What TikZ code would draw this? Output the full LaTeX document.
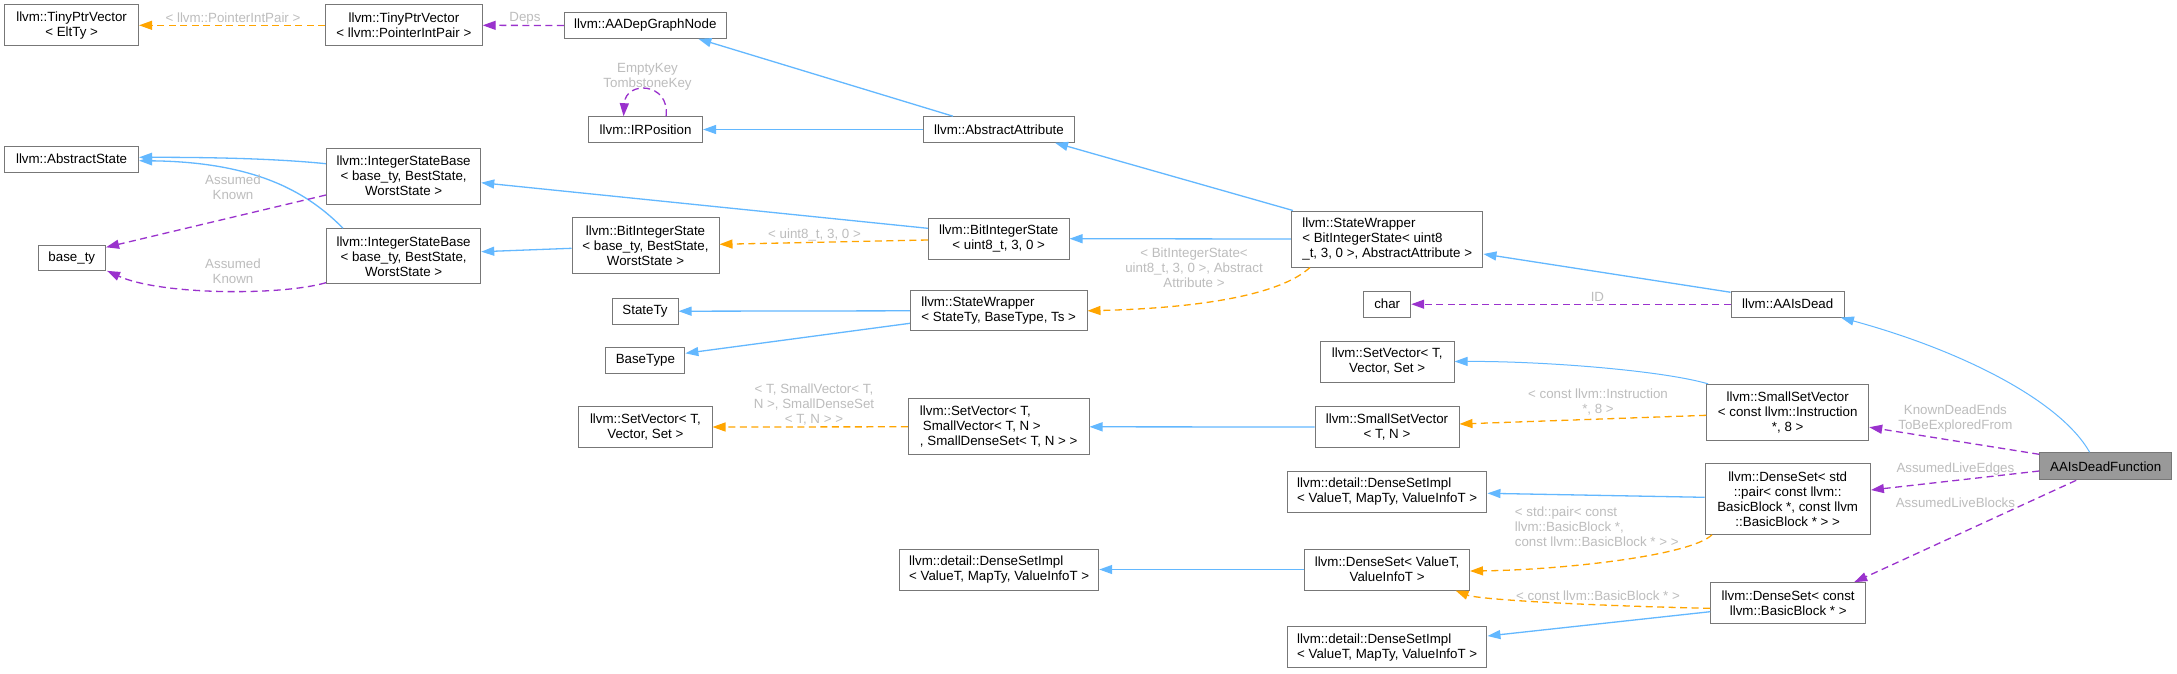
\documentclass[tikz,border=0pt]{standalone}
\usepackage{fontspec}
\setmainfont{Liberation Sans}
\usetikzlibrary{arrows.meta,calc}
\definecolor{inhblue}{HTML}{63B8FF}
\definecolor{tmplorange}{HTML}{FFA500}
\definecolor{usepurple}{HTML}{9A32CD}
\definecolor{lblgray}{HTML}{BDBDBD}
\definecolor{nodeborder}{HTML}{777777}
\definecolor{nodefill}{HTML}{999999}
\newcommand{\dxfont}{\fontsize{13.33}{15}\selectfont}
\begin{document}
\begin{tikzpicture}[x=1pt,y=-1pt,
  cls/.style={draw=nodeborder, line width=1pt, fill=white, inner sep=0pt, font=\dxfont, align=center},
  clsl/.style={cls, align=left},
  lbl/.style={text=lblgray, font=\dxfont, inner sep=0pt, align=center},
  tip/.style={-{Triangle[length=13pt,width=9pt]}},
  inh/.style={draw=inhblue, line width=1.3pt, tip},
  tmpl/.style={draw=tmplorange, line width=1.3pt, dash pattern=on 7pt off 4.5pt, tip},
  use/.style={draw=usepurple, line width=1.3pt, dash pattern=on 7pt off 4.5pt, tip}]
\useasboundingbox (0,0) rectangle (2177,673);
\fill[white] (0,0) rectangle (2177,673);

% nodes
\node[cls, minimum width=134pt, minimum height=40.7pt] (tinyE) at (71.6,25.3) {llvm::TinyPtrVector\\< EltTy >};
\node[cls, minimum width=156.6pt, minimum height=40.7pt] (tinyP) at (403.9,25.3) {llvm::TinyPtrVector\\< llvm::PointerIntPair >};
\node[cls, minimum width=161.7pt, minimum height=25.6pt] (depnode) at (645.3,25.5) {llvm::AADepGraphNode};
\node[cls, minimum width=114pt, minimum height=25.6pt] (irpos) at (645.6,129.5) {llvm::IRPosition};
\node[cls, minimum width=151.5pt, minimum height=25.6pt] (absattr) at (999,129.5) {llvm::AbstractAttribute};
\node[cls, minimum width=134pt, minimum height=26pt] (absstate) at (71.6,159) {llvm::AbstractState};
\node[cls, minimum width=154.3pt, minimum height=55.7pt] (isbT) at (403.6,176.2) {llvm::IntegerStateBase\\< base\_ty, BestState,\\WorstState >};
\node[cls, minimum width=67.5pt, minimum height=25.3pt] (basety) at (71.8,257.7) {base\_ty};
\node[cls, minimum width=154.3pt, minimum height=55.3pt] (isbB) at (403.6,256.3) {llvm::IntegerStateBase\\< base\_ty, BestState,\\WorstState >};
\node[cls, minimum width=147pt, minimum height=55.6pt] (bisB) at (645.5,245.5) {llvm::BitIntegerState\\< base\_ty, BestState,\\WorstState >};
\node[cls, minimum width=140.7pt, minimum height=40.7pt] (bisU) at (998.7,238.7) {llvm::BitIntegerState\\< uint8\_t, 3, 0 >};
\node[clsl, minimum width=191.5pt, minimum height=56pt] (swB) at (1387.2,239) {llvm::StateWrapper\\< BitIntegerState< uint8\\\_t, 3, 0 >, AbstractAttribute >};
\node[cls, minimum width=47pt, minimum height=25.7pt] (char) at (1387.2,304.2) {char};
\node[cls, minimum width=113.4pt, minimum height=25.7pt] (aaisdead) at (1787.7,304.2) {llvm::AAIsDead};
\node[cls, minimum width=66pt, minimum height=25.7pt] (statety) at (645,311.2) {StateTy};
\node[cls, minimum width=79pt, minimum height=26pt] (basetype) at (645.4,360.3) {BaseType};
\node[clsl, minimum width=176.6pt, minimum height=40.3pt] (swS) at (998.7,310.8) {llvm::StateWrapper\\< StateTy, BaseType, Ts >};
\node[cls, minimum width=133.7pt, minimum height=41pt] (svR) at (1387.2,361.5) {llvm::SetVector< T,\\Vector, Set >};
\node[cls, minimum width=162pt, minimum height=55.7pt] (ssvI) at (1787.7,412.2) {llvm::SmallSetVector\\< const llvm::Instruction\\ *, 8 >};
\node[cls, minimum width=133.2pt, minimum height=40.6pt] (svL) at (645.4,427) {llvm::SetVector< T,\\Vector, Set >};
\node[clsl, minimum width=180.6pt, minimum height=55.7pt] (svS) at (998.7,426.8) {llvm::SetVector< T,\\\hspace*{3pt}SmallVector< T, N >\\, SmallDenseSet< T, N > >};
\node[cls, minimum width=144pt, minimum height=40.6pt] (ssvT) at (1387,427) {llvm::SmallSetVector\\< T, N >};
\node[cls, fill=nodefill, minimum width=132pt, minimum height=27pt] (aadf) at (2105.7,466.3) {AAIsDeadFunction};
\node[clsl, minimum width=199.5pt, minimum height=40.6pt] (dsiT) at (1387.2,492) {llvm::detail::DenseSetImpl\\< ValueT, MapTy, ValueInfoT >};
\node[cls, minimum width=165.4pt, minimum height=71pt] (dsPair) at (1787.7,498.8) {llvm::DenseSet< std\\::pair< const llvm::\\BasicBlock *, const llvm\\::BasicBlock * > >};
\node[clsl, minimum width=199pt, minimum height=41pt] (dsiM) at (999.2,569.5) {llvm::detail::DenseSetImpl\\< ValueT, MapTy, ValueInfoT >};
\node[cls, minimum width=164.8pt, minimum height=41pt] (dsV) at (1387.1,569.5) {llvm::DenseSet< ValueT,\\ValueInfoT >};
\node[cls, minimum width=155pt, minimum height=40.6pt] (dsBB) at (1788.2,603) {llvm::DenseSet< const\\llvm::BasicBlock * >};
\node[clsl, minimum width=199.5pt, minimum height=41pt] (dsiB) at (1387.2,647.2) {llvm::detail::DenseSetImpl\\< ValueT, MapTy, ValueInfoT >};

% edges
\draw[tmpl] (tinyP.west) -- (tinyE.east);
\draw[use] (depnode.west) -- (tinyP.east);
\draw[inh] ($(absattr.north)+(-46,0)$) -- ($(depnode.south)+(53,0)$);
\draw[use] ($(irpos.north)+(20.5,0)$) .. controls +(4,-34) and +(2,-36) .. ($(irpos.north)+(-22,0)$);
\draw[inh] (absattr.west) -- (irpos.east);
\draw[inh] ($(swB.north west)+(2,0)$) -- ($(absattr.south)+(56,0)$);
\draw[inh] ($(isbT.west)+(0,-12.5)$) .. controls (270,158) and (200,157.3) .. ($(absstate.east)+(0,-1.7)$);
\draw[inh] ($(isbB.north west)+(17,0)$) .. controls (310,195) and (260,162) .. ($(absstate.east)+(0,1.7)$);
\draw[use] ($(isbT.west)+(0,18.8)$) -- ($(basety.east)+(0,-10.4)$);
\draw[use] ($(isbB.west)+(0,26.4)$) .. controls (280,296) and (160,295) .. ($(basety.south east)+(1,0)$);
\draw[inh] ($(bisU.west)+(0,-10.4)$) -- ($(isbT.east)+(0,6.5)$);
\draw[inh] ($(bisB.west)+(0,2.8)$) -- ($(isbB.east)+(0,-4.6)$);
\draw[tmpl] ($(bisU.west)+(0,1.3)$) -- ($(bisB.east)+(0,-1.2)$);
\draw[inh] (swB.west) -- (bisU.east);
\draw[tmpl] ($(swB.south west)+(19,0)$) .. controls (1280,295) and (1200,308) .. (swS.east);
\draw[inh] (swS.west) -- (statety.east);
\draw[inh] ($(swS.west)+(0,12.5)$) -- ($(basetype.east)+(0,-7)$);
\draw[inh] ($(aaisdead.north west)+(0,1.4)$) -- ($(swB.east)+(0,15)$);
\draw[use] (aaisdead.west) -- (char.east);
\draw[inh, line width=1pt] ($(aadf.north)+(-16,0)$) .. controls (2060,400) and (1960,350) .. ($(aaisdead.south east)+(-4,0)$);
\draw[inh, line width=1pt] ($(ssvI.north west)+(2,0)$) .. controls (1660,370) and (1540,361) .. (svR.east);
\draw[tmpl] ($(ssvI.west)+(0,3.1)$) -- ($(ssvT.east)+(0,-3)$);
\draw[inh] (ssvT.west) -- (svS.east);
\draw[tmpl] (svS.west) -- (svL.east);
\draw[use] ($(aadf.west)+(0,-12)$) -- ($(ssvI.east)+(0,15)$);
\draw[use] ($(aadf.west)+(0,4.7)$) -- ($(dsPair.east)+(0,-8.8)$);
\draw[use] ($(aadf.south west)+(37,0)$) -- ($(dsBB.north east)+(-12,0)$);
\draw[inh] ($(dsPair.west)+(0,-1.5)$) -- ($(dsiT.east)+(0,1.3)$);
\draw[tmpl] ($(dsPair.south west)+(7.5,0)$) .. controls (1690,556) and (1560,570) .. ($(dsV.east)+(0,1.5)$);
\draw[inh] (dsV.west) -- (dsiM.east);
\draw[tmpl] ($(dsBB.west)+(0,5.3)$) .. controls (1600,606) and (1480,600) .. ($(dsV.south east)+(-14.5,0)$);
\draw[inh] ($(dsBB.west)+(0,8.7)$) -- ($(dsiB.east)+(0,-11.2)$);

% labels
\node[lbl] (l1) at (233,18) {< llvm::PointerIntPair >};
\node[lbl] (l2) at (525,18) {Deps};
\node[lbl] (l3) at (647.5,76.5) {EmptyKey\\TombstoneKey};
\node[lbl] (l4) at (233,187.5) {Assumed\\Known};
\node[lbl] (l5) at (233,271.5) {Assumed\\Known};
\node[lbl] (l6) at (814.5,235) {< uint8\_t, 3, 0 >};
\node[lbl] (l7) at (1194,267.7) {< BitIntegerState<\\uint8\_t, 3, 0 >, Abstract\\Attribute >};
\node[lbl] (l8) at (1597.4,297.3) {ID};
\node[lbl] (l9) at (1598,402.5) {< const llvm::Instruction\\*, 8 >};
\node[lbl] (l10) at (814,404.7) {< T, SmallVector< T,\\N >, SmallDenseSet\\< T, N > >};
\node[lbl] (l11) at (1955.4,418.2) {KnownDeadEnds\\ToBeExploredFrom};
\node[lbl] (l12) at (1955.4,469.3) {AssumedLiveEdges};
\node[lbl] (l13) at (1955.4,502.7) {AssumedLiveBlocks};
\node[lbl, align=left, anchor=west] (l14) at (1514.7,527) {< std::pair< const\\llvm::BasicBlock *,\\const llvm::BasicBlock * > >};
\node[lbl] (l15) at (1598,595.7) {< const llvm::BasicBlock * >};
\end{tikzpicture}
\end{document}
